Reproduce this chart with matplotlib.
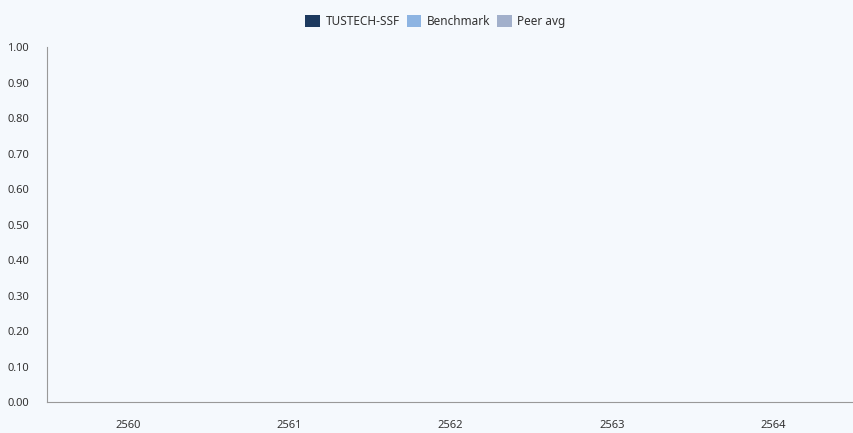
import matplotlib.pyplot as plt
import numpy as np

years = ['2560', '2561', '2562', '2563', '2564']
tustech = [0, 0, 0, 0, 0]
benchmark = [0, 0, 0, 0, 0]
peer_avg = [0, 0, 0, 0, 0]

plt.rcParams['font.family'] = ['Noto Sans', 'DejaVu Sans']
bg = '#f5f9fd'

fig = plt.figure(figsize=(8.54, 4.33), dpi=100, facecolor=bg)
ax = fig.add_axes([0.055, 0.0716, 0.945, 0.8194], facecolor=bg)

x = np.arange(len(years))
w = 0.25
ax.bar(x - w, tustech, w, color='#1d3a5f', label='TUSTECH-SSF', linewidth=0)
ax.bar(x, benchmark, w, color='#8db4e2', label='Benchmark', linewidth=0)
ax.bar(x + w, peer_avg, w, color='#a2b0cb', label='Peer avg', linewidth=0)

ax.set_xlim(-0.5, len(years) - 0.5)
ax.set_ylim(0, 1.0)
ax.set_yticks(np.arange(0, 1.01, 0.1))
ax.set_yticklabels([f'{v:.2f}' for v in np.arange(0, 1.01, 0.1)])
ax.set_xticks(x)
ax.set_xticklabels(years)
ax.tick_params(axis='both', length=0, labelsize=8, colors='#333333')
ax.tick_params(axis='x', pad=13)
ax.tick_params(axis='y', pad=13)
for s in ['top', 'right']:
    ax.spines[s].set_visible(False)
for s in ['left', 'bottom']:
    ax.spines[s].set_color('#999999')
    ax.spines[s].set_linewidth(0.8)

fig.legend(loc='upper center', bbox_to_anchor=(0.51, 0.99), ncol=3, frameon=False,
           fontsize=8.5, handlelength=1.2, handleheight=1.2, columnspacing=0.6,
           handletextpad=0.5, labelcolor='#333333')

fig.savefig('out.png', dpi=100, facecolor=bg)
